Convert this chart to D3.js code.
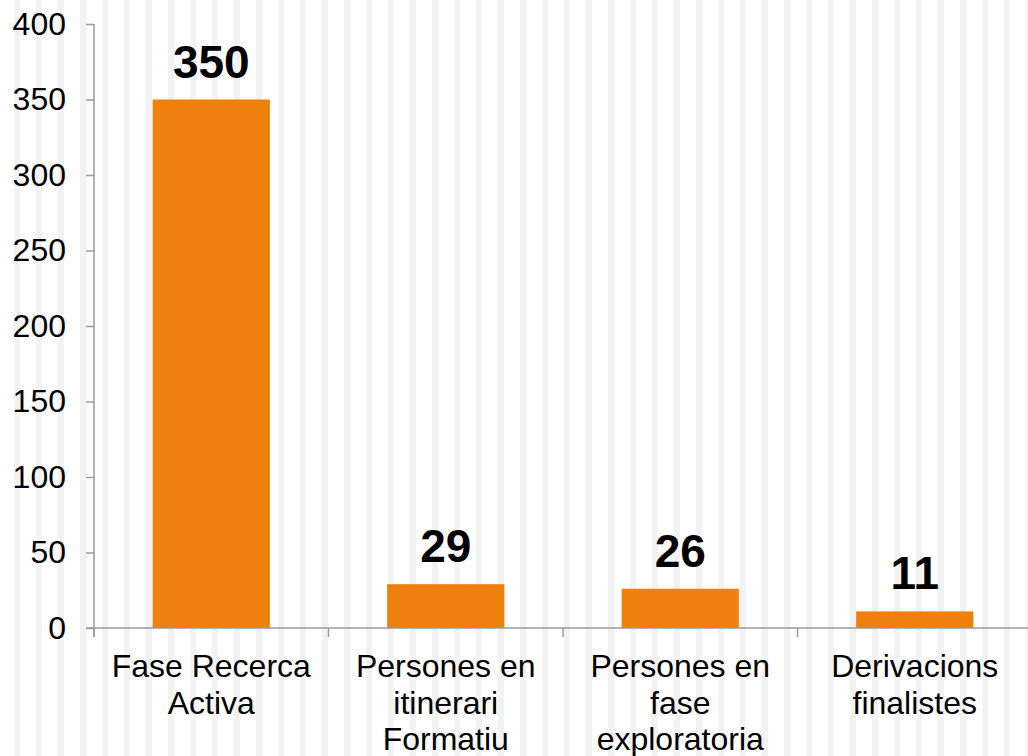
<!DOCTYPE html>
<html>
<head>
<meta charset="utf-8">
<script src="https://cdn.jsdelivr.net/npm/d3@7"></script>
<style>
  body { margin: 0; background: #fff; }
  svg text { font-family: "Liberation Sans", Arial, sans-serif; fill: #000; }
</style>
</head>
<body>
<div id="chart"></div>
<script>
// categories (each line of the label) and values
var categories = [
    ["Fase Recerca", "Activa"],
    ["Persones en", "itinerari", "Formatiu"],
    ["Persones en", "fase", "exploratoria"],
    ["Derivacions", "finalistes"]
];
var values = [350, 29, 26, 11];
var yTicks = [0, 50, 100, 150, 200, 250, 300, 350, 400];

var width = 1028, height = 756;
var margin = { left: 94, top: 24, bottom: 128 };
var plotRight = 1032;

var svg = d3.select("#chart").append("svg")
    .attr("width", width).attr("height", height);

// background stripes
var stripeX = d3.range(14, width, 22);
svg.append("g").selectAll("rect").data(stripeX)
    .enter().append("rect")
    .attr("x", function (d) { return d; })
    .attr("y", 0)
    .attr("width", 6)
    .attr("height", height)
    .attr("fill", "#f2f2f2");

var x = d3.scaleBand()
    .domain(d3.range(values.length))
    .range([margin.left, plotRight])
    .paddingInner(0).paddingOuter(0);

var y = d3.scaleLinear()
    .domain([0, 400])
    .range([height - margin.bottom, margin.top]);

// bars
svg.append("g").selectAll("rect").data(values)
    .enter().append("rect")
    .attr("x", function (d, i) { return x(i) + x.bandwidth() / 4; })
    .attr("y", function (d) { return y(d); })
    .attr("width", x.bandwidth() / 2)
    .attr("height", function (d) { return y(0) - y(d); })
    .attr("fill", "#f0800e");

// y axis
var yAxis = svg.append("g")
    .attr("transform", "translate(" + margin.left + ",0)")
    .call(d3.axisLeft(y).tickValues(yTicks).tickSizeInner(8).tickSizeOuter(0).tickPadding(20));
yAxis.select(".domain").attr("stroke", "#9a9a9a").attr("stroke-width", 1.5)
    .attr("d", "M0," + y(400) + "V" + (y(0) + 9));
yAxis.selectAll(".tick line").attr("stroke", "#9a9a9a").attr("stroke-width", 1.5);
yAxis.selectAll(".tick text")
    .attr("font-size", "32px")
    .attr("font-family", "Liberation Sans, Arial, sans-serif")
    .attr("fill", "#000");

// x axis
var xAxis = svg.append("g")
    .attr("transform", "translate(0," + y(0) + ")");
xAxis.append("line")
    .attr("x1", margin.left - 8).attr("x2", width)
    .attr("y1", 0).attr("y2", 0)
    .attr("stroke", "#9a9a9a").attr("stroke-width", 1.5);
var xTickPos = d3.range(values.length + 1).map(function (i) { return margin.left + i * x.bandwidth(); });
xAxis.selectAll(".xtick").data(xTickPos)
    .enter().append("line")
    .attr("class", "xtick")
    .attr("x1", function (d) { return d; }).attr("x2", function (d) { return d; })
    .attr("y1", 0).attr("y2", 9)
    .attr("stroke", "#9a9a9a").attr("stroke-width", 1.5);

// category labels
var catLabels = svg.append("g").selectAll("text").data(categories)
    .enter().append("text")
    .attr("text-anchor", "middle")
    .attr("font-size", "32px")
    .attr("transform", function (d, i) {
        return "translate(" + (x(i) + x.bandwidth() / 2) + "," + (y(0) + 49) + ")";
    });
catLabels.selectAll("tspan").data(function (d) { return d; })
    .enter().append("tspan")
    .attr("x", 0)
    .attr("y", function (d, j) { return j * 36.7; })
    .text(function (d) { return d; });

// value labels
svg.append("g").selectAll("text").data(values)
    .enter().append("text")
    .attr("text-anchor", "middle")
    .attr("font-size", "46px")
    .attr("font-weight", "bold")
    .attr("x", function (d, i) { return x(i) + x.bandwidth() / 2; })
    .attr("y", function (d) { return y(d) - 22; })
    .text(function (d) { return d; });
</script>
</body>
</html>
